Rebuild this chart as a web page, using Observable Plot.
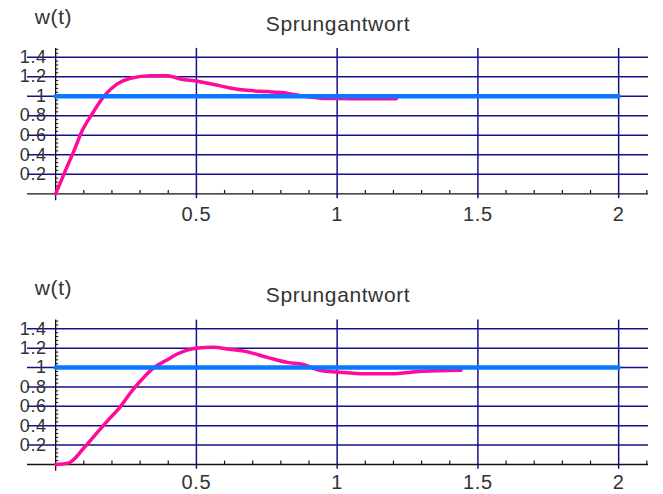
<!DOCTYPE html>
<html><head><meta charset="utf-8">
<script src="https://cdn.jsdelivr.net/npm/d3@7"></script>
<script src="https://cdn.jsdelivr.net/npm/@observablehq/plot@0.6"></script>
<style>body{margin:0;background:#fff} svg{display:block}</style>
</head><body><div id="c"></div>
<script>
const titleText = "Sprungantwort";
const yLabelText = "w(t)";
const xTicks = [0.5, 1, 1.5, 2];
const xTickLabels = ["0.5", "1", "1.5", "2"];
const yTicks = [0.2, 0.4, 0.6, 0.8, 1, 1.2, 1.4];
const yTickLabels = ["0.2", "0.4", "0.6", "0.8", "1", "1.2", "1.4"];
const xMinorTicks = [0.1, 0.2, 0.3, 0.4, 0.6, 0.7, 0.8, 0.9, 1.1, 1.2, 1.3, 1.4, 1.6, 1.7, 1.8, 1.9, 2.1];
const yMinorTicks = [0.04, 0.08, 0.12, 0.16, 0.24, 0.28, 0.32, 0.36, 0.44, 0.48, 0.52, 0.56, 0.64, 0.68, 0.72, 0.76, 0.84, 0.88, 0.92, 0.96, 1.04, 1.08, 1.12, 1.16, 1.24, 1.28, 1.32, 1.36, 1.44, 1.48];
const stepT = [0, 2];
const stepW = [1, 1];
const tTop = [0, 0.035, 0.065, 0.095, 0.13, 0.172, 0.219, 0.266, 0.337, 0.397, 0.444, 0.503, 0.562, 0.62, 0.68, 0.75, 0.81, 0.88, 0.93, 0.95, 1.05, 1.21];
const wTop = [0, 0.24, 0.44, 0.65, 0.82, 1.0, 1.126, 1.184, 1.21, 1.21, 1.177, 1.153, 1.12, 1.085, 1.06, 1.047, 1.036, 1.0, 0.985, 0.976, 0.975, 0.975];
const tBottom = [0, 0.047, 0.1, 0.136, 0.184, 0.231, 0.266, 0.302, 0.349, 0.39, 0.432, 0.497, 0.562, 0.616, 0.669, 0.752, 0.823, 0.88, 0.91, 0.94, 1.0, 1.1, 1.19, 1.3, 1.44];
const wBottom = [0, 0.017, 0.17, 0.29, 0.45, 0.6, 0.74, 0.864, 1.0, 1.07, 1.14, 1.2, 1.21, 1.19, 1.17, 1.106, 1.054, 1.033, 1.0, 0.97, 0.955, 0.937, 0.937, 0.962, 0.972];

const GRID = "#12128a", TXT = "#333", PINK = "#ff0a9a", BLUE = "#0a78ff";
const X0 = -0.1, X1 = 2.106, YLO = -0.07, YHI = 1.49;

function chart(t, w, height, y0, k, xLabelDy) {
  const marginTop = y0 - YHI * k;
  const marginBottom = height - (y0 - YLO * k);
  const resp = t.map((d, i) => ({t: d, w: w[i]}));
  const step = stepT.map((d, i) => ({t: d, w: stepW[i]}));
  return Plot.plot({
    width: 663, height,
    marginLeft: 27, marginRight: 15, marginTop, marginBottom,
    x: {domain: [X0, X1], axis: null},
    y: {domain: [YLO, YHI], axis: null},
    style: {fontFamily: "'Liberation Sans', Arial, sans-serif", fontSize: "21px", letterSpacing: "0.6px", background: "white", overflow: "visible"},
    marks: [
      Plot.ruleY(yTicks, {y: d => d, x1: X0, x2: X1, stroke: GRID, strokeWidth: 1.5}),
      Plot.ruleX(xTicks, {x: d => d, y1: -0.05, y2: YHI, stroke: GRID, strokeWidth: 1.5}),
      Plot.ruleY([0], {y: d => d, x1: X0, x2: X1, stroke: "#111", strokeWidth: 1.3}),
      Plot.ruleX([0], {x: d => d, y1: YLO, y2: YHI, stroke: "#111", strokeWidth: 1.3}),
      Plot.ruleX(xMinorTicks, {x: d => d, y1: 0, y2: 0.035, stroke: "#111", strokeWidth: 1.2}),
      Plot.ruleY(yMinorTicks, {y: d => d, x1: 0, x2: 0.011, stroke: "#111", strokeWidth: 1}),
      Plot.line(resp, {x: "t", y: "w", stroke: PINK, strokeWidth: 3.5, curve: "monotone-x"}),
      Plot.line(step, {x: "t", y: "w", stroke: BLUE, strokeWidth: 4.5}),
      Plot.text(yTicks, {x: 0, y: d => d, text: (d, i) => yTickLabels[i], textAnchor: "end", dx: -9, fill: TXT, fontSize: 18, letterSpacing: "1.8px"}),
      Plot.text(xTicks, {x: d => d, y: 0, text: (d, i) => xTickLabels[i], dy: xLabelDy, fill: TXT, fontSize: 20}),
      Plot.text([titleText], {frameAnchor: "top", lineAnchor: "middle", dy: -(marginTop - 23.5), fill: TXT}),
      Plot.text([yLabelText], {frameAnchor: "top-left", lineAnchor: "middle", textAnchor: "middle", dx: 26, dy: -(marginTop - 17), fill: TXT})
    ]
  });
}
const c = document.getElementById("c");
c.appendChild(chart(tTop, wTop, 271, 193.3, 97.6, 21));
c.appendChild(chart(tBottom, wBottom, 223, 193, 96.9, 18));
</script>
</body></html>
